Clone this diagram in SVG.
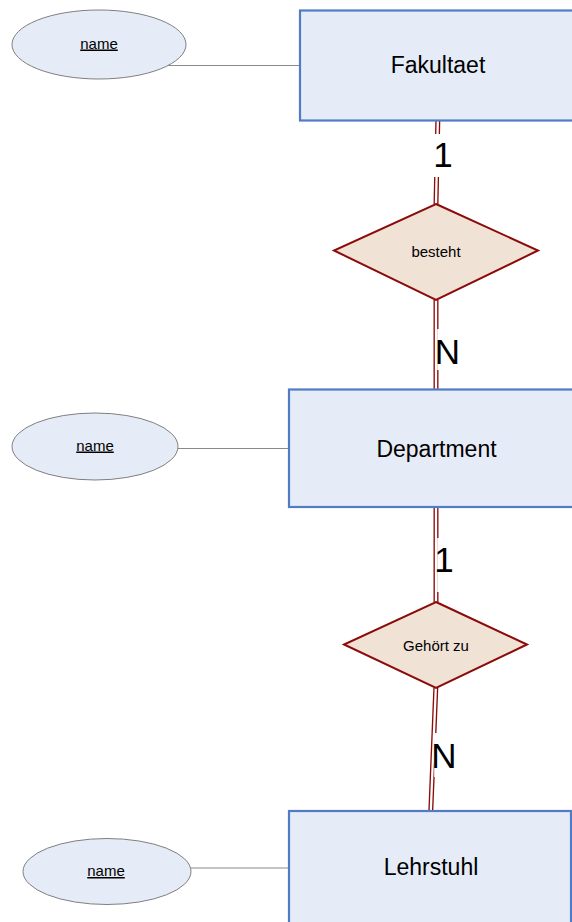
<svg xmlns="http://www.w3.org/2000/svg" width="572" height="922" viewBox="0 0 572 922">
  <style>
    .entity { fill: #E6ECF7; stroke: #4F7CC4; stroke-width: 2.2; }
    .attr { fill: #E6ECF7; stroke: #7F7F7F; stroke-width: 1; }
    .rel { fill: #F1E2D6; stroke: #8B0A0A; stroke-width: 2; stroke-linejoin: miter; }
    .link { stroke: #8A8A8A; stroke-width: 1.2; fill: none; }
    .dbl-out { stroke: #8B0A0A; stroke-width: 5; fill: none; }
    .dbl-in { stroke: #FFFFFF; stroke-width: 2.3; fill: none; }
    .lblbg { fill: #FFFFFF; stroke: none; }
    text { font-family: "Liberation Sans", Arial, sans-serif; fill: #000000; }
    .ename { font-size: 23px; text-anchor: middle; }
    .aname { font-size: 15px; text-anchor: middle; text-decoration: underline; }
    .rname { font-size: 15px; text-anchor: middle; }
    .card { font-size: 35px; text-anchor: middle; }
  </style>

  <!-- attribute links and relationship connectors -->
  <g id="connectors">
    <line class="link" x1="168" y1="65.5" x2="300" y2="65.5"/>
    <line class="link" x1="178" y1="448.5" x2="289" y2="448.5"/>
    <line class="link" x1="190" y1="868" x2="289" y2="868"/>

    <!-- Fakultaet - besteht -->
    <line class="dbl-out" x1="437.8" y1="121" x2="436" y2="204"/>
    <line class="dbl-in" x1="437.8" y1="121" x2="436" y2="204"/>
    <rect class="lblbg" x="432" y="134" width="20" height="43"/>
    <text class="card" x="443" y="167">1</text>

    <!-- besteht - Department -->
    <line class="dbl-out" x1="436" y1="300" x2="436" y2="389"/>
    <line class="dbl-in" x1="436" y1="300" x2="436" y2="389"/>
    <rect class="lblbg" x="437.2" y="329" width="23" height="41"/>
    <text class="card" x="447.5" y="364">N</text>

    <!-- Department - Gehört zu -->
    <line class="dbl-out" x1="436" y1="507" x2="436" y2="602"/>
    <line class="dbl-in" x1="436" y1="507" x2="436" y2="602"/>
    <rect class="lblbg" x="437.2" y="538" width="15" height="54"/>
    <text class="card" x="444" y="572">1</text>

    <!-- Gehört zu - Lehrstuhl -->
    <line class="dbl-out" x1="435.8" y1="688" x2="430.8" y2="811"/>
    <line class="dbl-in" x1="435.8" y1="688" x2="430.8" y2="811"/>
    <rect class="lblbg" x="434.2" y="733" width="24" height="44"/>
    <text class="card" x="444" y="768">N</text>
  </g>

  <g id="fakultaet">
    <rect class="entity" x="300" y="10.5" width="278" height="110"/>
    <text class="ename" x="438" y="73">Fakultaet</text>
  </g>
  <g id="fakultaet-name">
    <ellipse class="attr" cx="99" cy="44.5" rx="87" ry="34.5"/>
    <text class="aname" x="99" y="48.5">name</text>
  </g>

  <g id="besteht">
    <polygon class="rel" points="436,204 538,250.5 436,300 334,250.5"/>
    <text class="rname" x="436" y="257">besteht</text>
  </g>

  <g id="department">
    <rect class="entity" x="289" y="389.5" width="290" height="117.5"/>
    <text class="ename" x="436.5" y="457">Department</text>
  </g>
  <g id="department-name">
    <ellipse class="attr" cx="95" cy="446.5" rx="83" ry="33.5"/>
    <text class="aname" x="95" y="450.5">name</text>
  </g>

  <g id="gehoert-zu">
    <polygon class="rel" points="436,602 527,644.5 436,688 344,644.5"/>
    <text class="rname" x="436" y="651">Gehört zu</text>
  </g>

  <g id="lehrstuhl">
    <rect class="entity" x="289" y="811" width="282" height="130"/>
    <text class="ename" x="431" y="875">Lehrstuhl</text>
  </g>
  <g id="lehrstuhl-name">
    <ellipse class="attr" cx="107" cy="871.5" rx="84" ry="33"/>
    <text class="aname" x="106" y="876">name</text>
  </g>
</svg>
